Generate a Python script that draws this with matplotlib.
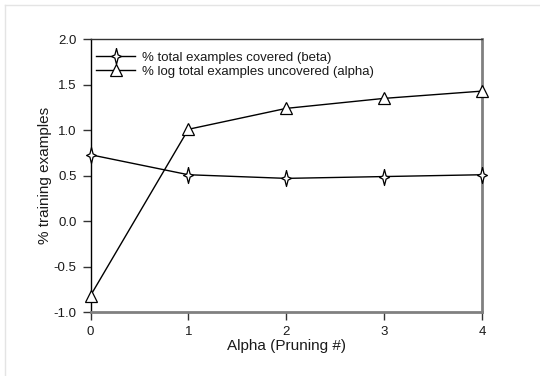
import matplotlib
matplotlib.use("Agg")
import matplotlib.pyplot as plt
from matplotlib.lines import Line2D

plt.rcParams['font.family'] = ['Liberation Sans', 'DejaVu Sans']

pruning = [0, 1, 2, 3, 4]
beta = [0.73, 0.51, 0.47, 0.49, 0.51]
alpha = [-0.82, 1.01, 1.24, 1.35, 1.43]
yticks = [-1.0, -0.5, 0.0, 0.5, 1.0, 1.5, 2.0]

# four-pointed star, taller than wide
star = [(0, 1), (0.2, 0.2), (0.62, 0), (0.2, -0.2), (0, -1),
        (-0.2, -0.2), (-0.62, 0), (-0.2, 0.2), (0, 1)]

fig = plt.figure(figsize=(5.4, 3.76), dpi=100)
ax = fig.add_axes([0.1676, 0.1702, 0.7250, 0.7253])

text_color = '#1a1a1a'
ax.plot(pruning, beta, color='black', lw=1.0, marker=star, markersize=11.5,
        markerfacecolor='white', markeredgecolor='black', markeredgewidth=0.9,
        label='% total examples covered (beta)', clip_on=False, zorder=3)
ax.plot(pruning, alpha, color='black', lw=1.0, marker='^', markersize=8.5,
        markerfacecolor='white', markeredgecolor='black', markeredgewidth=0.9,
        label='% log total examples uncovered (alpha)', clip_on=False, zorder=3)

ax.set_xlim(0, 4)
ax.set_ylim(-1.0, 2.0)
ax.set_xticks(pruning)
ax.set_xticklabels([str(p) for p in pruning])
ax.set_yticks(yticks)
ax.set_yticklabels([f'{v:.1f}' for v in yticks])
ax.tick_params(direction='out', length=6, width=1.0, color='#333333',
               labelsize=9.5, labelcolor=text_color, pad=4)

ax.spines['left'].set_color('black')
ax.spines['left'].set_linewidth(1.0)
ax.spines['top'].set_color('#333333')
ax.spines['top'].set_linewidth(1.0)
ax.spines['right'].set_color('#808080')
ax.spines['right'].set_linewidth(2.0)
ax.spines['bottom'].set_color('#808080')
ax.spines['bottom'].set_linewidth(2.0)

ax.set_xlabel('Alpha (Pruning #)', fontsize=11, color=text_color, labelpad=1)
ax.set_ylabel('% training examples', fontsize=11, color=text_color, labelpad=1)

leg = ax.legend(loc='upper left', frameon=False, fontsize=9.5, handlelength=3.0,
                handletextpad=0.5, borderaxespad=0.0, labelspacing=0.15,
                bbox_to_anchor=(0.0, 0.975))
for t in leg.get_texts():
    t.set_color(text_color)

# light frame along the top and left edges of the figure
w, h = 540, 376
fig.add_artist(Line2D([5 / w, 5 / w], [0, 1 - 5 / h], transform=fig.transFigure,
                      color='#e4e4e4', lw=1.0))
fig.add_artist(Line2D([5 / w, 1], [1 - 5 / h, 1 - 5 / h], transform=fig.transFigure,
                      color='#e4e4e4', lw=1.0))

fig.savefig('out.png', dpi=100)
